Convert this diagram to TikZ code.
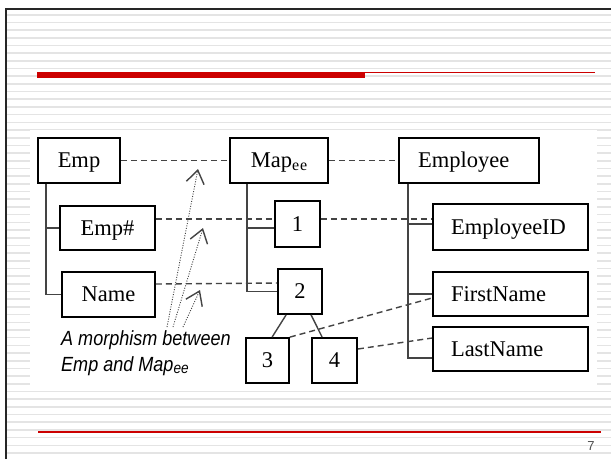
\documentclass[tikz,border=0pt]{standalone}
\usepackage{fontspec}
\setmainfont{Liberation Serif}
\newfontfamily\sansit[FakeStretch=0.88]{Liberation Sans}
\newfontfamily\sansnum{Liberation Sans}
\usetikzlibrary{arrows.meta,calc}
\definecolor{slidered}{HTML}{CC0000}
\definecolor{stripe}{HTML}{E4E4E4}
\definecolor{linegray}{HTML}{444444}
\begin{document}
\begin{tikzpicture}[x=1pt,y=-1pt,
  box/.style={draw=black, line width=1.8pt, fill=white, inner sep=0pt,
    text height=14.8pt, text depth=0pt, font=\fontsize{22.5}{27}\selectfont},
  lbox/.style={box, align=left, inner xsep=18pt},
  tree/.style={draw=linegray, line width=1.4pt},
  dashline/.style={draw=linegray, line width=1.4pt, dash pattern=on 6pt off 4pt},
  arr/.style={draw=linegray, line width=0.9pt, dash pattern=on 1pt off 1.5pt,
    -{Straight Barb[length=13pt, width=18pt, line width=1.4pt]}}
]
\path[use as bounding box] (0,0) rectangle (611,459);
% slide background
\fill[white] (0,0) rectangle (611,459);
\foreach \i in {0,...,57} {
  \draw[stripe, line width=1.6pt] (7,{14.7+7.69*\i}) -- (611,{14.7+7.69*\i});
}
\draw[line width=2.2pt, black!85] (6,459) -- (6,9.3) -- (611,9.3);
\fill[slidered] (37,72) rectangle (365,78);
\draw[slidered, line width=1.3pt] (365,72.8) -- (595,72.8);
\draw[slidered, line width=1.1pt] (38,432) -- (601,432);
\node[font=\sansnum\fontsize{13}{13}\selectfont, text=black!70] (pnum) at (591,446) {7};
% diagram panel
\fill[white] (30,130) rectangle (597,390);

% nodes
\node[box, minimum width=82pt, minimum height=45pt] (Emp) at (79,160.5) {Emp};
\node[box, minimum width=95pt, minimum height=44pt] (EmpNum) at (107.5,228) {Emp\#};
\node[box, minimum width=93pt, minimum height=45pt] (Name) at (108.5,294.5) {Name};
\node[box, minimum width=98pt, minimum height=45pt] (Map) at (279,160.5)
  {Map{\fontsize{16}{16}\selectfont\raisebox{-3pt}{e\kern0.8pt e}}};
\node[box, minimum width=45pt, minimum height=46pt] (one) at (297.5,224) {1};
\node[box, minimum width=44pt, minimum height=45pt] (two) at (300,291.5) {2};
\node[box, minimum width=43pt, minimum height=45pt] (three) at (267.5,360.5) {3};
\node[box, minimum width=45pt, minimum height=45pt] (four) at (334.5,360.5) {4};
\node[lbox, inner xsep=19pt, text width=102pt, minimum height=45pt] (Employee) at (469,160.5) {Employee};
\node[lbox, text width=119pt, minimum height=46pt] (EmployeeID) at (510.5,227) {EmployeeID};
\node[lbox, text width=119pt, minimum height=44pt] (FirstName) at (510.5,294) {FirstName};
\node[lbox, text width=119pt, minimum height=44pt] (LastName) at (510.5,349) {LastName};

\node[anchor=north west, inner sep=0pt, align=left, text=black,
  font=\sansit\itshape\fontsize{20.5}{26}\selectfont] (morph) at (61,330.5)
  {A morphism between\\Emp and Map{\fontsize{15.5}{15.5}\selectfont\raisebox{-1.5pt}{ee}}};

% tree lines
\draw[tree] ([xshift=9pt]Emp.south west) |- (EmpNum.west);
\draw[tree] ([xshift=9pt]Emp.south west) |- (Name.west);
\draw[tree] ([xshift=18pt]Map.south west) |- ([yshift=-4pt]one.west);
\draw[tree] ([xshift=18pt]Map.south west) |- (two.west);
\draw[tree] ([xshift=10pt]Employee.south west) |- ([yshift=3pt]EmployeeID.west);
\draw[tree] ([xshift=10pt]Employee.south west) |- (FirstName.west);
\draw[tree] ([xshift=10pt]Employee.south west) |- ([yshift=-9pt]LastName.west);
\draw[tree] ([xshift=9pt]two.south west) -- ([xshift=27pt]three.north west);
\draw[tree] ([xshift=34pt]two.south west) -- ([xshift=11pt]four.north west);

% dashed correspondences
\draw[dashline] (Emp.east) -- (Map.west);
\draw[dashline] (Map.east) -- (Employee.west);
\draw[dashline] ([yshift=9pt]EmpNum.east) -- ([yshift=5pt]one.west);
\draw[dashline] ([yshift=5pt]one.east) -- ([yshift=8pt]EmployeeID.west);
\draw[dashline] ([yshift=10.5pt]Name.east) -- ([yshift=8.5pt]two.west);
\draw[dashline] (three.north east) -- ([yshift=-4pt]FirstName.west);
\draw[dashline] ([yshift=11.5pt]four.east) -- ([yshift=11pt]LastName.west);

% morphism arrows
\coordinate (t1) at (198,169);
\coordinate (t2) at (203,228);
\coordinate (t3) at (200,290);
\draw[arr] ($(morph.north west)+(106,-3.5)$) -- (t1);
\draw[arr] ($(morph.north west)+(112,-3.5)$) -- (t2);
\draw[arr] ($(morph.north west)+(122,-3.5)$) -- (t3);
\end{tikzpicture}
\end{document}
